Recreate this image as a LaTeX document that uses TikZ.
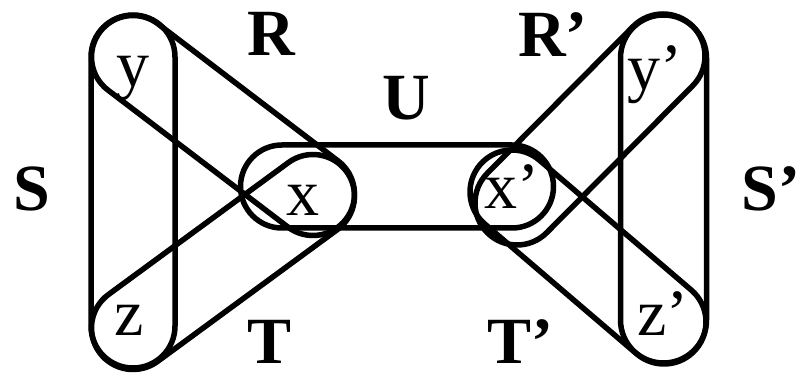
\documentclass[tikz,border=0pt]{standalone}
\usepackage{fontspec}
\setmainfont{Liberation Serif}
\usetikzlibrary{calc}
\tikzset{
  edge/.style={line width=5.5pt, line join=round},
  vtx/.style={inner sep=0pt, font=\fontsize{66}{70}\selectfont},
  elabel/.style={inner sep=0pt, font=\fontsize{66}{70}\selectfont\bfseries},
}
% stadium-shaped hyperedge between two named coordinates
\newcommand{\hyperedge}[3]{%
  \draw[edge] let \p1=(#1), \p2=(#2), \n1={atan2(\y2-\y1,\x2-\x1)} in
    ($(\p1)+(\n1+90:#3)$) arc[start angle=\n1+90, delta angle=180, radius=#3]
    -- ($(\p2)+(\n1-90:#3)$) arc[start angle=\n1-90, delta angle=180, radius=#3]
    -- cycle;}
\begin{document}
\begin{tikzpicture}[x=1pt,y=1pt]
\useasboundingbox (0,0) rectangle (803,379);
% hyperedge end points
\coordinate (S1) at (133,322);
\coordinate (S2) at (133,53);
\coordinate (R1) at (133,322);
\coordinate (R2) at (313,185);
\coordinate (T1) at (133,51);
\coordinate (T2) at (313,183);
\coordinate (U1) at (282,192.5);
\coordinate (U2) at (512,192.5);
\coordinate (Sp1) at (663.5,321);
\coordinate (Sp2) at (663.5,59);
\coordinate (Rp1) at (663,323);
\coordinate (Rp2) at (517,176);
\coordinate (Tp1) at (664,57);
\coordinate (Tp2) at (512,187);
% hyperedges
\hyperedge{S1}{S2}{42}
\hyperedge{R1}{R2}{41.5}
\hyperedge{T1}{T2}{41.5}
\hyperedge{U1}{U2}{41.5}
\hyperedge{Sp1}{Sp2}{43}
\hyperedge{Rp1}{Rp2}{42}
\hyperedge{Tp1}{Tp2}{42}
% vertices
\node[vtx] (y) at (133,301) {y};
\node[vtx] (z) at (129,59) {z};
\node[vtx] (x) at (303,179) {x};
\node[vtx] (xp) at (512,192) {x’};
\node[vtx] (yp) at (655,304) {y’};
\node[vtx] (zp) at (663,65) {z’};
% hyperedge labels
\node[elabel] (lS) at (32,190) {S};
\node[elabel] (lR) at (271,345) {R};
\node[elabel] (lT) at (270,37) {T};
\node[elabel] (lU) at (406,281) {U};
\node[elabel] (lSp) at (771,190) {S’};
\node[elabel] (lRp) at (553,344) {R’};
\node[elabel] (lTp) at (520,37) {T’};
\end{tikzpicture}
\end{document}
